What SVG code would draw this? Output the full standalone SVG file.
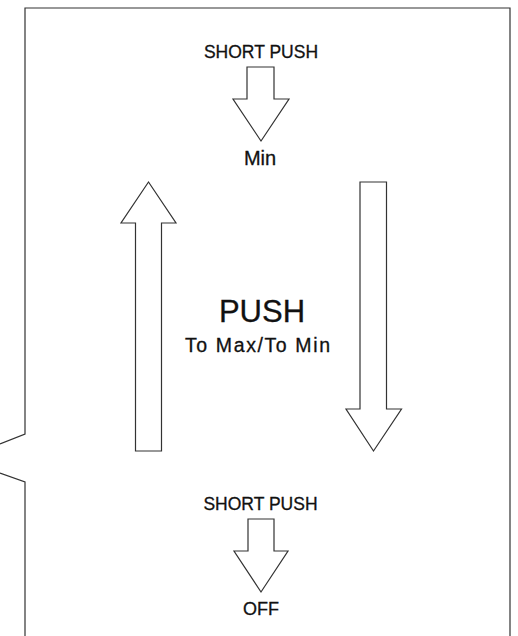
<svg xmlns="http://www.w3.org/2000/svg" width="518" height="636" viewBox="0 0 518 636">
<style>
.ln{fill:none;stroke:#333;stroke-width:1.2}
.ar{fill:#fff;stroke:#333;stroke-width:1.2;stroke-linejoin:miter}
text{font-family:"Liberation Sans",Arial,sans-serif;fill:#111;stroke:#111;stroke-width:0.3;text-anchor:middle}
</style>
<rect width="518" height="636" fill="#fff"/>
<g id="frame">
<path class="ln" d="M25,636 L25,482 L0,473 M0,444 L25,434 L25,8 L510,8 L510,636"/>
</g>
<g id="connectors">
<path class="ar" d="M247,67 L274,67 L274,99 L289,99 L261,141 L233,99 L247,99 Z"/>
<path class="ar" d="M135.5,451 L161.5,451 L161.5,223 L176,223 L148.5,182 L121,223 L135.5,223 Z"/>
<path class="ar" d="M360,182 L386.5,182 L386.5,409 L401.5,409 L373.5,451 L346,409 L360,409 Z"/>
<path class="ar" d="M248,519 L274,519 L274,551 L288,551 L261,592 L234,551 L248,551 Z"/>
</g>
<g id="node-short-push-top"><text x="261" y="58" font-size="17.5">SHORT PUSH</text></g>
<g id="node-min"><text x="260" y="165" font-size="20">Min</text></g>
<g id="node-push"><text x="262" y="321.5" font-size="31">PUSH</text><text x="257.5" y="351.5" font-size="19.5" textLength="145" lengthAdjust="spacing">To Max/To Min</text></g>
<g id="node-short-push-bottom"><text x="260.5" y="509.5" font-size="17.5">SHORT PUSH</text></g>
<g id="node-off"><text x="261" y="614.5" font-size="18">OFF</text></g>
</svg>
